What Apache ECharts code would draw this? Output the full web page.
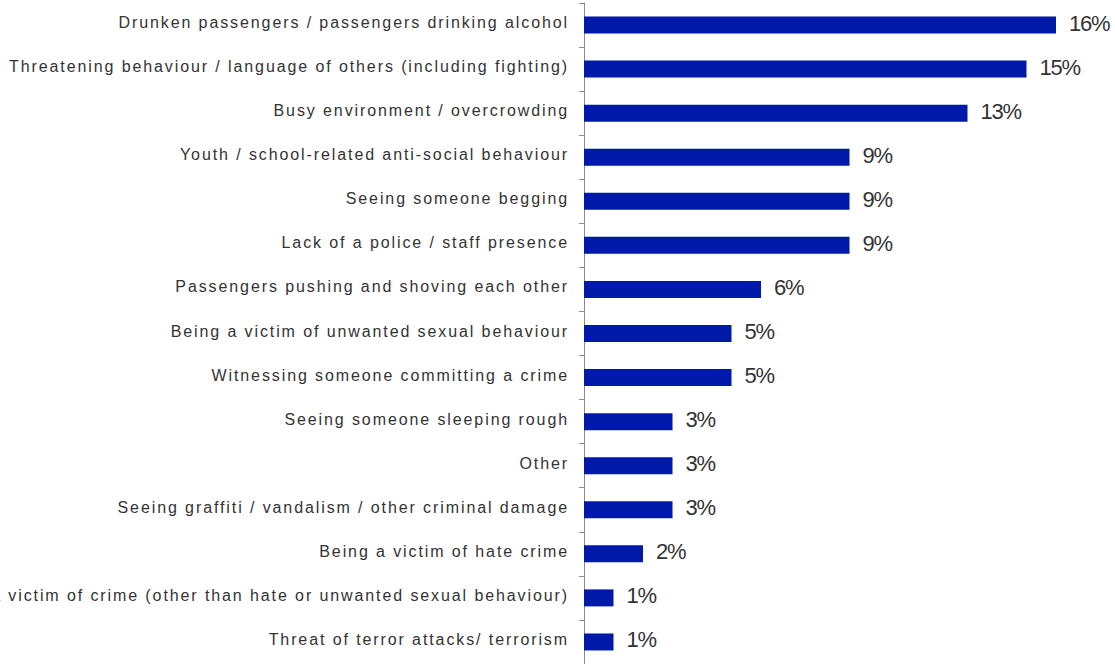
<!DOCTYPE html>
<html>
<head>
<meta charset="utf-8">
<script src="https://cdn.jsdelivr.net/npm/echarts@6/dist/echarts.min.js"></script>
<style>
html,body{margin:0;padding:0;background:#fff;overflow:hidden;}
#c{width:1115px;height:664px;}
#c text[style*="16px"]{letter-spacing:1.9px;}
#c text[style*="22px"]{letter-spacing:-1.2px;}
</style>
</head>
<body>
<div id="c"></div>
<script>
const categories = [
  "Drunken passengers / passengers drinking alcohol",
  "Threatening behaviour / language of others (including fighting)",
  "Busy environment / overcrowding",
  "Youth / school-related anti-social behaviour",
  "Seeing someone begging",
  "Lack of a police / staff presence",
  "Passengers pushing and shoving each other",
  "Being a victim of unwanted sexual behaviour",
  "Witnessing someone committing a crime",
  "Seeing someone sleeping rough",
  "Other",
  "Seeing graffiti / vandalism / other criminal damage",
  "Being a victim of hate crime",
  "Being a victim of crime (other than hate or unwanted sexual behaviour)",
  "Threat of terror attacks/ terrorism"
];
const values = [16, 15, 13, 9, 9, 9, 6, 5, 5, 3, 3, 3, 2, 1, 1];

const chart = echarts.init(document.getElementById('c'), null, { renderer: 'svg' });
chart.setOption({
  animation: false,
  grid: { left: 584, right: 0, top: 3, bottom: 0, containLabel: false },
  xAxis: {
    type: 'value', min: 0, max: 18, show: false
  },
  yAxis: {
    type: 'category', data: categories, inverse: true,
    axisLine: { show: true, lineStyle: { color: '#8c8c8c', width: 1 } },
    axisTick: { show: true, length: 5, lineStyle: { color: '#8c8c8c' } },
    axisLabel: { margin: 15, color: '#333', fontFamily: 'Liberation Sans', fontSize: 16, verticalAlign: 'bottom', lineHeight: 5 },
    splitLine: { show: false }
  },
  series: [{
    type: 'bar', data: values, barWidth: 17,
    itemStyle: { color: '#0019A8' },
    label: {
      show: true, position: 'right', distance: 13, formatter: '{c}%', offset: [0, -2],
      color: '#333', fontFamily: 'Liberation Sans', fontSize: 22
    }
  }]
});
</script>
</body>
</html>
